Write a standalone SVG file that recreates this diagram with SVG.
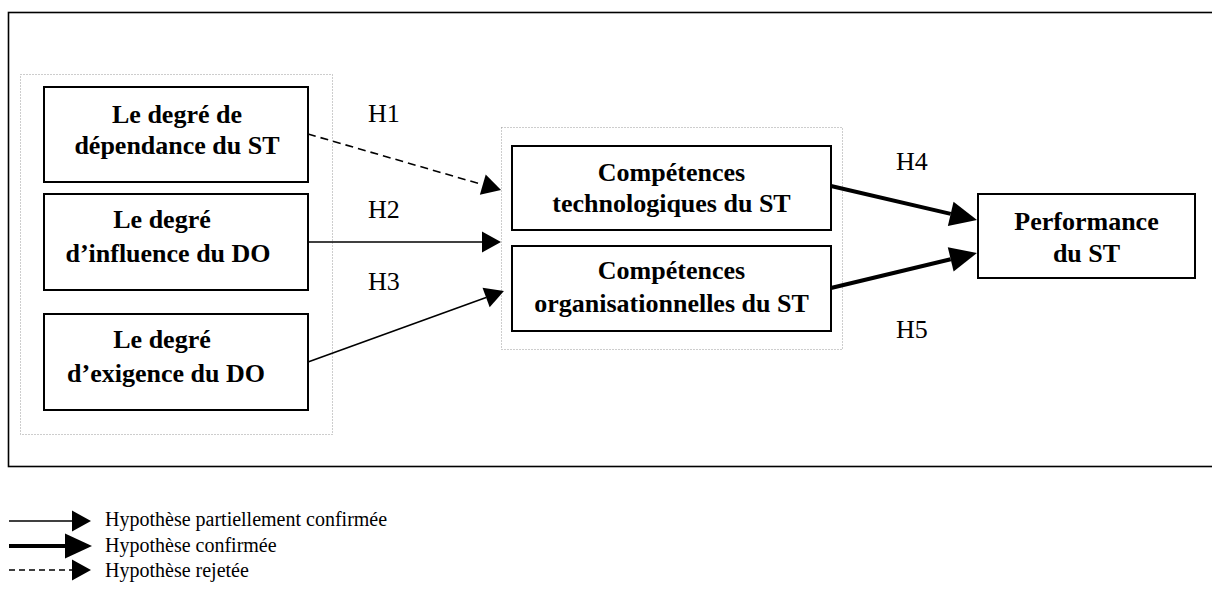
<svg xmlns="http://www.w3.org/2000/svg" width="1212" height="590" viewBox="0 0 1212 590">
<style>
.frame{fill:none;stroke:#000;stroke-width:1.6}
.group{fill:none;stroke:#9a9a9a;stroke-width:1;stroke-dasharray:1 2}
.box{fill:#fff;stroke:#000;stroke-width:2}
.nt{font-family:"Liberation Serif","Times New Roman",serif;font-weight:bold;font-size:26px;fill:#000;text-anchor:middle}
.hl{font-family:"Liberation Serif","Times New Roman",serif;font-size:26px;fill:#000}
.lg{font-family:"Liberation Serif","Times New Roman",serif;font-size:20px;fill:#000}
.thin{fill:none;stroke:#000;stroke-width:1.6;marker-end:url(#aThin)}
.dash{fill:none;stroke:#000;stroke-width:1.6;stroke-dasharray:8 5;marker-end:url(#aThin)}
.thick{fill:none;stroke:#000;stroke-width:4;marker-end:url(#aThick)}
</style>
<defs>
<marker id="aThin" markerUnits="userSpaceOnUse" markerWidth="20" markerHeight="22" refX="0" refY="10.5" orient="auto" overflow="visible">
<path d="M0,0 L19,10.5 L0,21 Z" fill="#000"/>
</marker>
<marker id="aThick" markerUnits="userSpaceOnUse" markerWidth="28" markerHeight="26" refX="0" refY="12.5" orient="auto" overflow="visible">
<path d="M0,0 L27,12.5 L0,25 Z" fill="#000"/>
</marker>
</defs>
<rect class="frame" x="8.5" y="12.5" width="1210" height="454"/>
<rect class="group" x="20.5" y="74.5" width="312" height="360"/>
<rect class="group" x="501.5" y="127.5" width="341" height="222"/>
<g id="connectors">
<line class="dash" x1="308" y1="134" x2="482.8" y2="184.7"/>
<line class="thin" x1="308" y1="242" x2="482" y2="242"/>
<line class="thin" x1="308" y1="362" x2="486.1" y2="297.5"/>
<line class="thick" x1="831" y1="186" x2="950.7" y2="213.9"/>
<line class="thick" x1="831" y1="288" x2="950.7" y2="259.3"/>
<text class="hl" x="368" y="122">H1</text>
<text class="hl" x="368" y="218">H2</text>
<text class="hl" x="368" y="290">H3</text>
<text class="hl" x="896" y="170">H4</text>
<text class="hl" x="896" y="338">H5</text>
</g>
<g id="dependance">
<rect class="box" x="44" y="87" width="264" height="95"/>
<text class="nt" x="177" y="123">Le degré de</text>
<text class="nt" x="177" y="154">dépendance du ST</text>
</g>
<g id="influence">
<rect class="box" x="44" y="194" width="264" height="96"/>
<text class="nt" x="162" y="228">Le degré</text>
<text class="nt" x="168" y="262">d’influence du DO</text>
</g>
<g id="exigence">
<rect class="box" x="44" y="314" width="264" height="96"/>
<text class="nt" x="162" y="348">Le degré</text>
<text class="nt" x="166" y="382">d’exigence du DO</text>
</g>
<g id="technologiques">
<rect class="box" x="512" y="146" width="319" height="84"/>
<text class="nt" x="671.5" y="181">Compétences</text>
<text class="nt" x="671.5" y="212">technologiques du ST</text>
</g>
<g id="organisationnelles">
<rect class="box" x="512" y="246" width="319" height="85"/>
<text class="nt" x="671.5" y="279">Compétences</text>
<text class="nt" x="671.5" y="312">organisationnelles du ST</text>
</g>
<g id="performance">
<rect class="box" x="978" y="194" width="217" height="84"/>
<text class="nt" x="1086.5" y="230">Performance</text>
<text class="nt" x="1086.5" y="262">du ST</text>
</g>
<g id="legend">
<line class="thin" x1="9" y1="521" x2="72" y2="521"/>
<text class="lg" x="105" y="526">Hypothèse partiellement confirmée</text>
<line class="thick" x1="9" y1="546" x2="65" y2="546"/>
<text class="lg" x="105" y="552">Hypothèse confirmée</text>
<line class="dash" x1="9" y1="570" x2="72" y2="570" style="stroke-dasharray:6 4"/>
<text class="lg" x="105" y="577">Hypothèse rejetée</text>
</g>
</svg>
